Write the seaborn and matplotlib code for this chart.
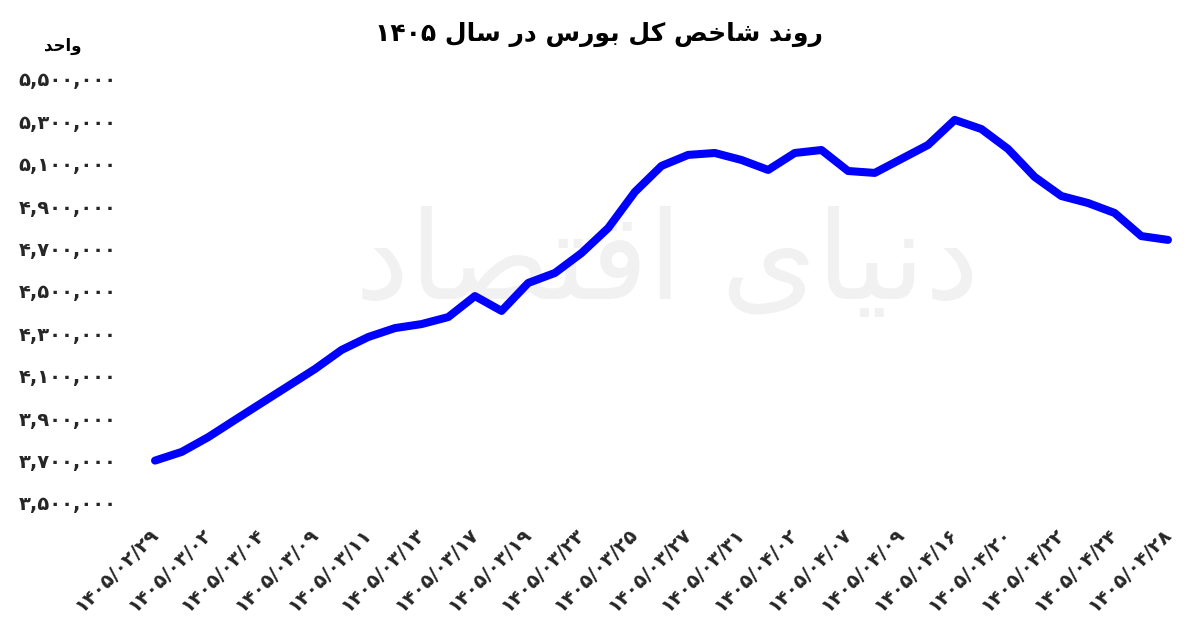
import re
import numpy as np
import pandas as pd
import matplotlib
matplotlib.use("Agg")
import matplotlib.pyplot as plt
import seaborn as sns

# ---------------- data ----------------
tick_dates = ["۱۴۰۵/۰۲/۲۹", "۱۴۰۵/۰۳/۰۲", "۱۴۰۵/۰۳/۰۴", "۱۴۰۵/۰۳/۰۹", "۱۴۰۵/۰۳/۱۱",
              "۱۴۰۵/۰۳/۱۳", "۱۴۰۵/۰۳/۱۷", "۱۴۰۵/۰۳/۱۹", "۱۴۰۵/۰۳/۲۳", "۱۴۰۵/۰۳/۲۵",
              "۱۴۰۵/۰۳/۲۷", "۱۴۰۵/۰۳/۳۱", "۱۴۰۵/۰۴/۰۲", "۱۴۰۵/۰۴/۰۷", "۱۴۰۵/۰۴/۰۹",
              "۱۴۰۵/۰۴/۱۶", "۱۴۰۵/۰۴/۲۰", "۱۴۰۵/۰۴/۲۲", "۱۴۰۵/۰۴/۲۴", "۱۴۰۵/۰۴/۲۸"]

index_values = [3700000, 3741000, 3811000, 3892000, 3972000, 4052000, 4132000, 4222000,
                4283000, 4325000, 4344000, 4377000, 4476000, 4406000, 4538000, 4585000,
                4679000, 4797000, 4967000, 5090000, 5142000, 5151000, 5118000, 5071000,
                5151000, 5165000, 5066000, 5057000, 5123000, 5189000, 5307000, 5264000,
                5170000, 5038000, 4948000, 4915000, 4868000, 4759000, 4741000]

y_ticks = [3500000, 3700000, 3900000, 4100000, 4300000, 4500000, 4700000,
           4900000, 5100000, 5300000, 5500000]

title_text = "روند شاخص کل بورس در سال ۱۴۰۵"
unit_text = "واحد"
watermark_text = "دنیای اقتصاد"

# ---------------- Persian shaping helpers ----------------
FORMS = {
    'ا': ('\uFE8D', '\uFE8E', None, None),
    'ب': ('\uFE8F', '\uFE90', '\uFE91', '\uFE92'),
    'ت': ('\uFE95', '\uFE96', '\uFE97', '\uFE98'),
    'ح': ('\uFEA1', '\uFEA2', '\uFEA3', '\uFEA4'),
    'خ': ('\uFEA5', '\uFEA6', '\uFEA7', '\uFEA8'),
    'د': ('\uFEA9', '\uFEAA', None, None),
    'ر': ('\uFEAD', '\uFEAE', None, None),
    'س': ('\uFEB1', '\uFEB2', '\uFEB3', '\uFEB4'),
    'ش': ('\uFEB5', '\uFEB6', '\uFEB7', '\uFEB8'),
    'ص': ('\uFEB9', '\uFEBA', '\uFEBB', '\uFEBC'),
    'ق': ('\uFED5', '\uFED6', '\uFED7', '\uFED8'),
    'ل': ('\uFEDD', '\uFEDE', '\uFEDF', '\uFEE0'),
    'ن': ('\uFEE5', '\uFEE6', '\uFEE7', '\uFEE8'),
    'و': ('\uFEED', '\uFEEE', None, None),
    'ک': ('\uFB8E', '\uFB8F', '\uFB90', '\uFB91'),
    'ی': ('\uFBFC', '\uFBFD', '\uFBFE', '\uFBFF'),
}


def shape(text):
    out = []
    n = len(text)
    for i, c in enumerate(text):
        if c not in FORMS:
            out.append(c)
            continue
        prev_j = i > 0 and text[i - 1] in FORMS and FORMS[text[i - 1]][2] is not None
        next_j = FORMS[c][2] is not None and i + 1 < n and text[i + 1] in FORMS
        if prev_j and next_j:
            out.append(FORMS[c][3])
        elif prev_j:
            out.append(FORMS[c][1])
        elif next_j:
            out.append(FORMS[c][2])
        else:
            out.append(FORMS[c][0])
    s = "".join(out)
    tokens = re.findall(r'[0-9۰-۹,/]+|[^0-9۰-۹,/]+', s)
    vis = []
    for t in reversed(tokens):
        if re.match(r'[0-9۰-۹,/]', t):
            vis.append(t)
        else:
            vis.append(t[::-1])
    return "".join(vis)


def fa_digits(s):
    return s.translate(str.maketrans("0123456789", "۰۱۲۳۴۵۶۷۸۹"))


# ---------------- plot ----------------
sns.set_style("white")
plt.rcParams['font.family'] = ['DejaVu Sans', 'Noto Sans']

df = pd.DataFrame({"idx": np.arange(len(index_values)), "value": index_values})

fig = plt.figure(figsize=(12, 6.34), dpi=100)
ax = fig.add_axes([0.1181, 0.1732, 0.8663, 0.7022])

ax.text(0.505, 0.58, shape(watermark_text), transform=ax.transAxes, ha='center',
        va='center', fontsize=88, color='#f1f1f1', zorder=0)

sns.lineplot(data=df, x="idx", y="value", ax=ax, color="#0000ff", linewidth=5.8,
             solid_capstyle='round', solid_joinstyle='round', zorder=3)
for ln in ax.lines:
    ln.set_clip_on(False)

ax.set_xlim(-0.5, len(index_values) - 0.5)
ax.set_ylim(3400000, 5500000)
ax.set_yticks(y_ticks)
ax.set_yticklabels([fa_digits(f"{v:,}") for v in y_ticks], fontsize=14, fontweight='bold')
ax.set_xticks(np.arange(0, len(index_values), 2))
ax.set_xticklabels(tick_dates, rotation=45, ha='right', va='center',
                   rotation_mode='anchor', fontsize=14, fontweight='bold')
ax.tick_params(axis='both', length=0)
ax.tick_params(axis='x', pad=5)
ax.tick_params(axis='y', pad=18)
ax.set_xlabel("")
ax.set_ylabel("")
for sp in ax.spines.values():
    sp.set_visible(False)
ax.grid(False)

fig.text(0.499, 0.945, shape(title_text), ha='center', va='center', fontsize=18,
         fontweight='bold', color='black')
fig.text(0.052, 0.928, shape(unit_text), ha='center', va='center', fontsize=12,
         fontweight='bold', color='black')

fig.savefig("out.png", dpi=100, facecolor='white')
